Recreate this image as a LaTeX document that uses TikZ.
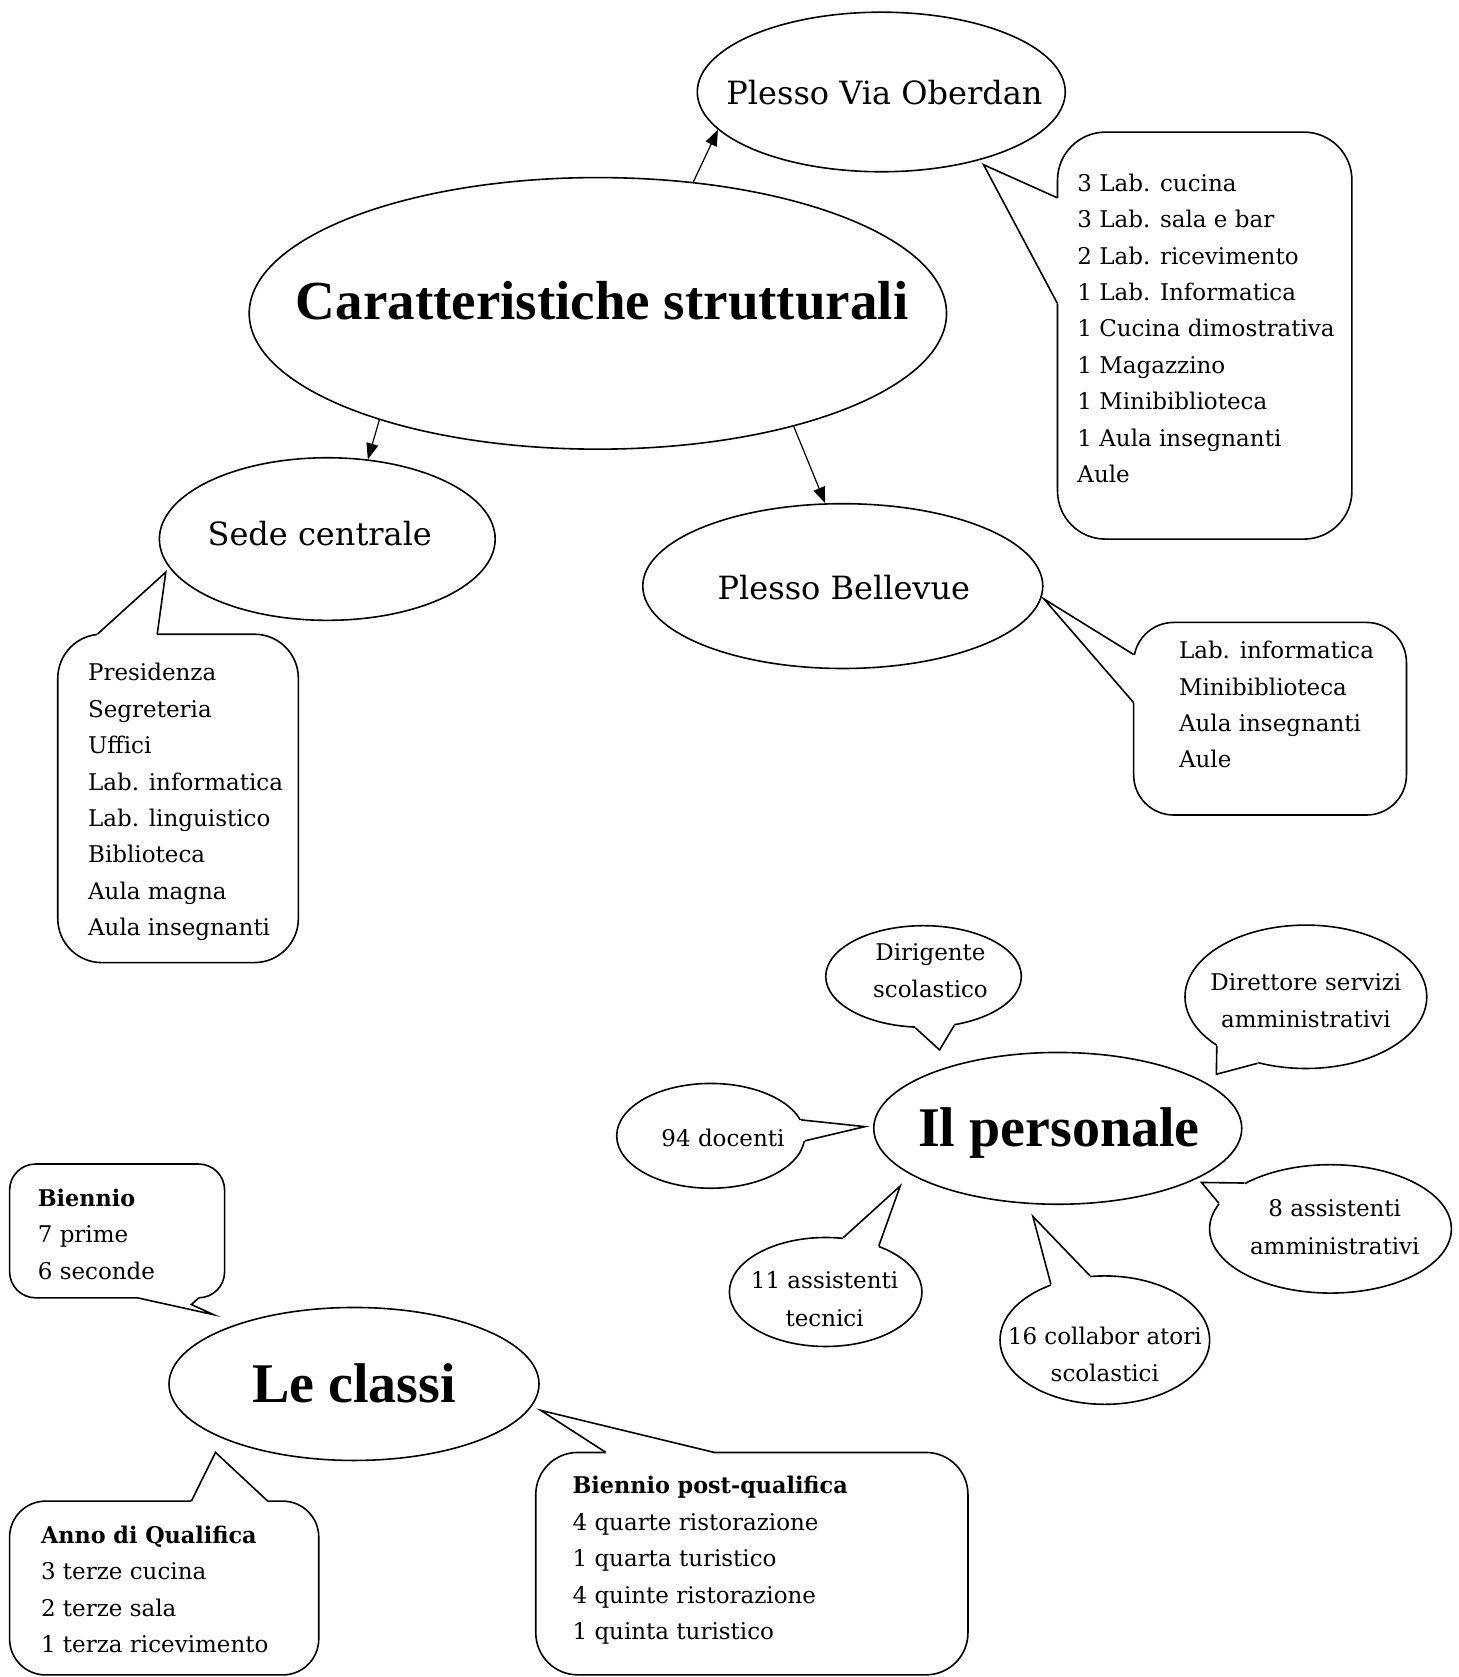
\documentclass[tikz,border=0pt]{standalone}
\usepackage{fontspec}
\setmainfont{DejaVu Serif}
\newfontfamily\titlefont{Liberation Serif}
\newfontfamily\labbf[FakeStretch=0.97]{DejaVu Serif Bold}
\usetikzlibrary{shapes.geometric,arrows.meta}
\begin{document}
\begin{tikzpicture}[x=0.5348pt,y=-0.5348pt,
  ell/.style={draw,ellipse,line width=0.8pt,inner sep=0pt},
  roundbox/.style={draw,rectangle,line width=0.8pt,inner sep=0pt},
  body/.style={font=\fontsize{11.5}{18.2}\selectfont,align=left,inner sep=0pt,anchor=west},
  bub/.style={font=\fontsize{11.5}{18.7}\selectfont,align=center,inner sep=0pt},
  eltext/.style={font=\fontsize{16}{19}\selectfont,inner sep=0pt,text height=11.7pt,text depth=0pt},
  bigtitle/.style={font=\titlefont\bfseries\fontsize{28}{32}\selectfont,inner sep=0pt,text height=18.5pt,text depth=0pt},
  arr/.style={-{Triangle[length=8pt,width=6pt]},line width=0.6pt},
  tailline/.style={line width=0.8pt,line join=miter}]
\useasboundingbox (0,0) rectangle (1364,1568);

% ---------- main ellipses ----------
\node[ell,minimum width=348.7pt,minimum height=135.8pt] (car) at (559,293) {};
\node[ell,minimum width=184pt,minimum height=79.8pt] (oberdan) at (824,86) {};
\node[ell,minimum width=167.9pt,minimum height=81.3pt] (sede) at (306,504) {};
\node[ell,minimum width=200pt,minimum height=82.4pt] (bellevue) at (788,548) {};
\node[ell,minimum width=184pt,minimum height=75.9pt] (personale) at (989,1055) {};
\node[ell,minimum width=185pt,minimum height=76.5pt] (classi) at (331,1294) {};

% ---------- speech bubbles (ellipses) ----------
\node[ell,minimum width=97.8pt,minimum height=50.8pt] (dirig) at (863.5,913) {};
\node[ell,minimum width=120.9pt,minimum height=71.7pt] (dirett) at (1221,932) {};
\node[ell,minimum width=94pt,minimum height=52.4pt] (docenti) at (664.5,1062) {};
\node[ell,minimum width=120.9pt,minimum height=64.2pt] (assa) at (1244,1149) {};
\node[ell,minimum width=96.3pt,minimum height=54.5pt] (asst) at (772,1208) {};
\node[ell,minimum width=104.8pt,minimum height=64.2pt] (coll) at (1033,1253) {};

% ---------- rounded boxes ----------
\node[roundbox,rounded corners=24pt,minimum width=147.2pt,minimum height=203.5pt] (obox) at (1126.4,313.8) {};
\node[roundbox,rounded corners=22pt,minimum width=120.3pt,minimum height=164.2pt] (sbox) at (166.5,746.5) {};
\node[roundbox,rounded corners=20pt,minimum width=136.4pt,minimum height=96.3pt] (bbox) at (1187.5,672) {};
\node[roundbox,rounded corners=13pt,minimum width=107.5pt,minimum height=66.9pt] (bienbox) at (109.5,1150.9) {};
\node[roundbox,rounded corners=18pt,minimum width=154.6pt,minimum height=86.9pt] (annobox) at (153.5,1484.8) {};
\node[roundbox,rounded corners=21pt,minimum width=216.1pt,minimum height=111.2pt] (postbox) at (703,1462) {};

% ---------- tails: erase border between base points, then draw ----------
\newcommand{\mktail}[3]{%
  \fill[white] #1 -- #2 -- #3 -- cycle;
  \draw[white,line width=1.8pt] #1 -- #3;
  \draw[tailline] #1 -- #2 -- #3;}
% box tails
\mktail{(988.7,185)}{(919.6,154)}{(988.7,283.8)}
\mktail{(91,593)}{(155,535)}{(147,593)}
\mktail{(1060,612)}{(976,560)}{(1060,657)}
\mktail{(178.9,1403.6)}{(201.5,1358)}{(250.4,1403.6)}
\mktail{(566.5,1358)}{(505.6,1318.7)}{(667.8,1358)}
% Biennio tail (bent right edge)
\fill[white] (128.2,1213.4) -- (199.7,1229.2) -- (178.9,1219.7) -- (186,1213.4) -- cycle;
\draw[white,line width=1.8pt] (128.2,1213.4) -- (186,1213.4);
\draw[tailline] (128.2,1213.4) -- (199.7,1229.2) -- (178.9,1219.7) -- (186,1213.4);
% bubble tails (base points on the ellipse borders)
\mktail{(dirig.261)}{(878.5,981.7)}{(dirig.302)}
\mktail{(dirett.209)}{(1137.3,1004.4)}{(dirett.234)}
\mktail{(docenti.10)}{(808.7,1053.4)}{(docenti.357)}
\mktail{(assa.152)}{(1123.4,1105.6)}{(assa.167.5)}
\mktail{(asst.72)}{(841.7,1108.9)}{(asst.41)}
\mktail{(coll.134)}{(965.7,1137.3)}{(coll.103)}

% ---------- arrows ----------
\draw[arr] (car.54) -- (oberdan.193);
\draw[arr] (car.206) -- (sede.63);
\draw[arr] (car.330) -- (bellevue.102);

% ---------- texts ----------
\node[bigtitle,font=\titlefont\bfseries\fontsize{27.5}{32}\selectfont] (car-t) at (563,281) {Caratteristiche strutturali};
\node[bigtitle] (personale-t) at (990,1055) {Il personale};
\node[bigtitle] (classi-t) at (331,1294) {Le classi};
\node[eltext] (oberdan-t) at (827,87) {Plesso Via Oberdan};
\node[eltext] (sede-t) at (299,499) {Sede centrale};
\node[eltext] (bellevue-t) at (789,550) {Plesso Bellevue};

\node[body] (obox-t) at (1007,307) {3 Lab. cucina\\3 Lab. sala e bar\\2 Lab. ricevimento\\1 Lab. Informatica\\1 Cucina dimostrativa\\1 Magazzino\\1 Minibiblioteca\\1 Aula insegnanti\\Aule};
\node[body] (sbox-t) at (82,750) {Presidenza\\Segreteria\\Uffici\\Lab. informatica\\Lab. linguistico\\Biblioteca\\Aula magna\\Aula insegnanti};
\node[body] (bbox-t) at (1102,659) {Lab. informatica\\Minibiblioteca\\Aula insegnanti\\Aule};
\node[body] (bienbox-t) at (35,1154) {{\labbf Biennio}\\7 prime\\6 seconde};
\node[body] (annobox-t) at (38,1486) {{\labbf Anno di Qualifica}\\3 terze cucina\\2 terze sala\\1 terza ricevimento};
\node[body] (postbox-t) at (535,1459) {{\labbf Biennio post-qualifica}\\4 quarte ristorazione\\1 quarta turistico\\4 quinte ristorazione\\1 quinta turistico};

\node[bub] (dirig-t) at (870,907.5) {Dirigente\\scolastico};
\node[bub] (dirett-t) at (1221,935.5) {Direttore servizi\\amministrativi};
\node[bub] (docenti-t) at (676,1064) {94 docenti};
\node[bub] (assa-t) at (1248,1147.5) {8 assistenti\\amministrativi};
\node[bub] (asst-t) at (771,1214.5) {11 assistenti\\tecnici};
\node[bub] (coll-t) at (1033,1266.5) {16 collabor atori\\scolastici};
\end{tikzpicture}
\end{document}
